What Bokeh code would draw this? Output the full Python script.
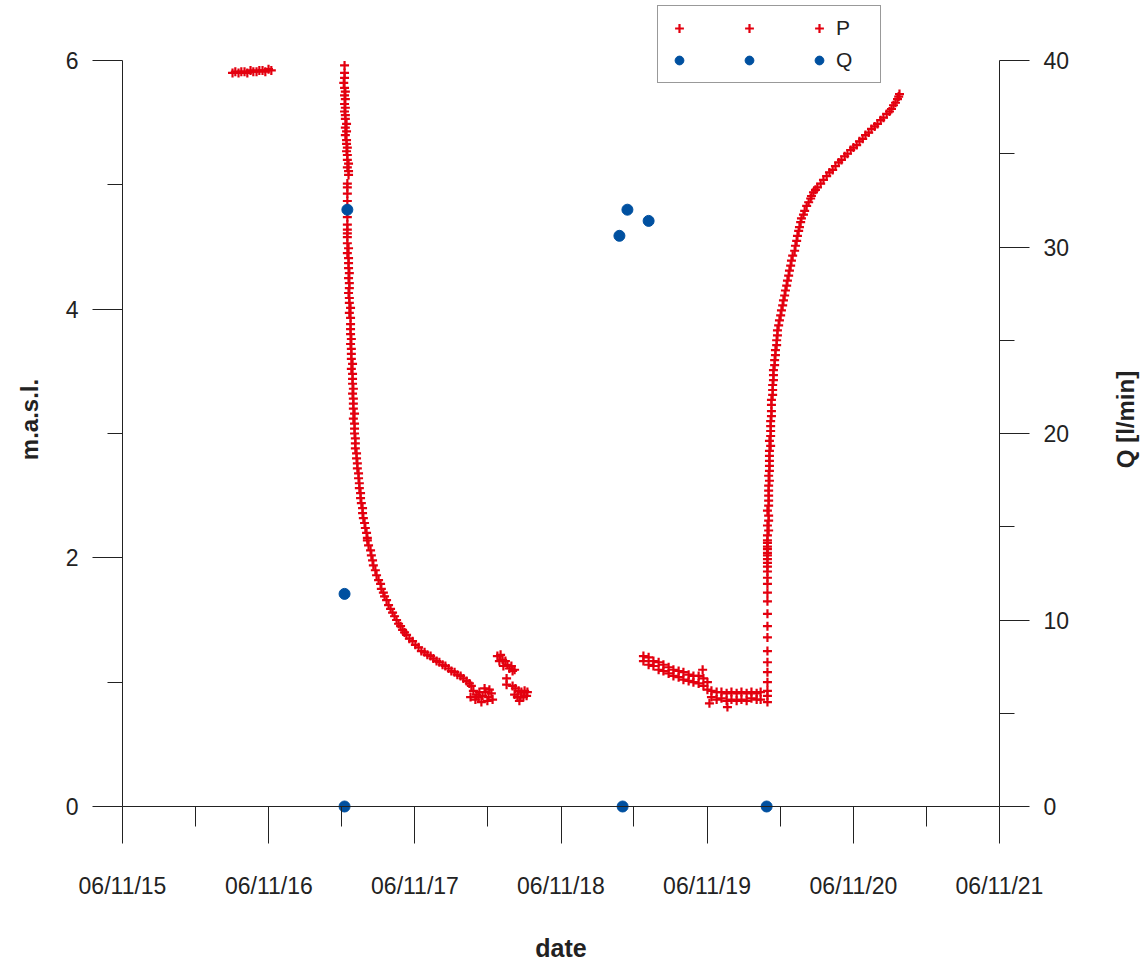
import numpy as np
import pandas as pd
from bokeh.plotting import figure
from bokeh.models import (Range1d, LinearAxis, FixedTicker, DatetimeTickFormatter,
                          Legend, LegendItem, Label)
from bokeh.embed import file_html
from bokeh.resources import INLINE

# ---------------- data ----------------
origin = pd.Timestamp("2015-11-06")   # day 0 of the record

# P : water level [m.a.s.l.]  (elapsed day, level)
p_before = [(275, 5.90), (282, 5.91), (290, 5.90), (297, 5.91), (305, 5.91), (312, 5.90),
            (320, 5.92), (327, 5.91), (335, 5.91), (342, 5.92), (350, 5.92), (357, 5.91),
            (365, 5.93), (372, 5.92)]

p_drawdown = [(555, 5.96), (555, 5.90), (555, 5.86), (553, 5.82), (555, 5.78), (557, 5.75),
              (555, 5.72), (557, 5.69), (555, 5.65), (557, 5.62), (555, 5.59), (557, 5.56),
              (557, 5.53), (560, 5.49), (557, 5.46), (560, 5.43), (557, 5.40), (560, 5.36),
              (560, 5.33), (562, 5.30), (560, 5.27), (562, 5.24), (562, 5.20), (565, 5.17),
              (562, 5.14), (565, 5.11), (565, 5.08),
              (562, 5.01), (562, 4.98), (562, 4.93), (562, 4.87), (562, 4.79), (562, 4.74),
              (562, 4.68), (562, 4.64), (562, 4.61), (562, 4.58),
              (562, 4.53), (565, 4.49), (562, 4.45), (565, 4.41), (565, 4.37), (565, 4.33),
              (567, 4.29), (565, 4.25), (567, 4.21), (567, 4.17), (565, 4.13), (567, 4.09),
              (567, 4.05), (570, 4.01), (567, 3.97), (570, 3.93), (570, 3.88), (570, 3.84),
              (570, 3.80), (572, 3.76), (570, 3.72), (572, 3.68), (572, 3.64), (572, 3.60),
              (575, 3.56), (572, 3.52), (575, 3.48), (575, 3.44), (575, 3.40), (577, 3.36),
              (575, 3.32), (577, 3.28), (577, 3.24), (577, 3.20), (580, 3.16), (577, 3.12),
              (580, 3.08), (580, 3.04), (580, 3.00), (582, 2.96), (582, 2.92), (582, 2.88),
              (585, 2.84), (585, 2.80), (587, 2.76), (587, 2.72), (590, 2.68), (590, 2.64),
              (592, 2.60), (592, 2.56), (595, 2.52), (595, 2.48), (597, 2.44), (600, 2.40),
              (600, 2.36), (602, 2.32), (605, 2.28), (607, 2.24), (610, 2.20), (612, 2.16),
              (612, 2.14), (615, 2.10), (620, 2.06), (622, 2.02), (625, 1.98), (627, 1.94),
              (632, 1.90), (635, 1.86), (640, 1.82), (645, 1.79), (647, 1.75), (652, 1.72),
              (655, 1.69), (660, 1.66), (665, 1.62), (670, 1.59), (675, 1.56), (680, 1.53),
              (685, 1.50), (690, 1.47), (695, 1.45), (700, 1.42), (705, 1.40), (710, 1.38),
              (717, 1.35), (725, 1.33), (732, 1.30), (740, 1.28), (747, 1.25), (755, 1.24),
              (762, 1.22), (770, 1.21), (777, 1.19), (785, 1.17), (792, 1.16), (800, 1.14),
              (807, 1.13), (815, 1.11), (822, 1.09), (830, 1.08), (837, 1.06), (845, 1.05),
              (852, 1.03), (860, 1.01), (867, 0.99), (872, 0.97)]

p_clusters = [(877, 0.93), (885, 0.90), (892, 0.92), (900, 0.89), (907, 0.92), (915, 0.88),
              (922, 0.91), (882, 0.86), (897, 0.84), (912, 0.85), (925, 0.86), (890, 0.88),
              (905, 0.95), (917, 0.94), (870, 0.88),
              (937, 1.21), (945, 1.22), (950, 1.18), (957, 1.17), (952, 1.13), (962, 1.14),
              (967, 1.11), (972, 1.13), (975, 1.09), (942, 1.17), (980, 1.10), (960, 1.03),
              (960, 0.98),
              (975, 0.97), (982, 0.95), (990, 0.93), (997, 0.92), (1005, 0.93), (1012, 0.92),
              (980, 0.90), (987, 0.88), (995, 0.88), (1002, 0.88), (1010, 0.89), (992, 0.85)]

p_second = [(1302, 1.21), (1302, 1.17), (1315, 1.20), (1315, 1.14), (1327, 1.17), (1327, 1.13),
            (1340, 1.16), (1340, 1.10), (1352, 1.14), (1352, 1.09), (1365, 1.12), (1365, 1.07),
            (1377, 1.10), (1377, 1.05), (1390, 1.09), (1390, 1.04), (1402, 1.08), (1402, 1.02),
            (1415, 1.06), (1415, 1.01), (1427, 1.05), (1427, 1.00), (1440, 1.05), (1440, 0.99),
            (1452, 1.03), (1452, 0.97), (1462, 1.00), (1462, 0.94), (1472, 0.93), (1472, 0.88),
            (1485, 0.92), (1485, 0.86), (1497, 0.92), (1497, 0.87), (1510, 0.91), (1510, 0.85),
            (1522, 0.92), (1522, 0.86), (1535, 0.91), (1535, 0.85), (1547, 0.92), (1547, 0.86),
            (1560, 0.91), (1560, 0.85), (1572, 0.92), (1572, 0.87), (1585, 0.91), (1585, 0.86),
            (1595, 0.92), (1595, 0.86), (1450, 1.10), (1467, 0.83), (1512, 0.80)]

p_recovery = [(1612, 0.84), (1612, 0.89), (1612, 0.93), (1612, 1.00), (1612, 1.08), (1612, 1.16),
              (1612, 1.25), (1612, 1.36), (1612, 1.45), (1612, 1.55), (1612, 1.65), (1612, 1.72),
              (1612, 1.79), (1612, 1.84), (1612, 1.89), (1612, 1.93), (1612, 1.96), (1612, 1.99),
              (1612, 2.02), (1612, 2.04), (1612, 2.07), (1612, 2.09), (1612, 2.12), (1612, 2.14),
              (1612, 2.18), (1615, 2.22), (1612, 2.26), (1615, 2.30), (1615, 2.34), (1612, 2.38),
              (1615, 2.42), (1615, 2.46), (1615, 2.50), (1615, 2.54), (1615, 2.58), (1617, 2.62),
              (1615, 2.66), (1617, 2.70), (1617, 2.74), (1617, 2.78), (1617, 2.82), (1617, 2.86),
              (1620, 2.90), (1617, 2.94), (1620, 2.98), (1620, 3.02), (1620, 3.06), (1620, 3.10),
              (1622, 3.14), (1622, 3.18), (1622, 3.23), (1622, 3.27), (1625, 3.31), (1625, 3.35),
              (1625, 3.39), (1627, 3.43), (1627, 3.47), (1627, 3.51), (1630, 3.55), (1630, 3.59),
              (1632, 3.63), (1632, 3.67), (1635, 3.71), (1635, 3.75), (1637, 3.79), (1637, 3.83),
              (1640, 3.87), (1642, 3.91), (1645, 3.95), (1647, 3.99), (1650, 4.03), (1652, 4.07),
              (1655, 4.11), (1657, 4.15), (1660, 4.19), (1662, 4.23), (1665, 4.27), (1667, 4.31),
              (1670, 4.35), (1672, 4.39), (1675, 4.43), (1680, 4.47), (1682, 4.51), (1685, 4.55),
              (1687, 4.59), (1690, 4.63), (1692, 4.66), (1695, 4.70), (1697, 4.73), (1702, 4.76),
              (1705, 4.79), (1710, 4.83), (1715, 4.86), (1720, 4.89), (1722, 4.91), (1727, 4.94),
              (1732, 4.96), (1737, 4.98), (1745, 5.01), (1752, 5.04), (1760, 5.07), (1767, 5.10),
              (1775, 5.12), (1782, 5.15), (1790, 5.18), (1797, 5.20), (1805, 5.23), (1812, 5.25),
              (1820, 5.28), (1827, 5.30), (1835, 5.32), (1842, 5.35), (1850, 5.37), (1857, 5.40),
              (1865, 5.42), (1872, 5.45), (1880, 5.47), (1887, 5.49), (1895, 5.52), (1902, 5.54),
              (1910, 5.57), (1917, 5.59), (1922, 5.61), (1927, 5.64), (1932, 5.66), (1937, 5.69),
              (1940, 5.71), (1942, 5.73)]

# Q : pumping rate [l/min]
q_days = [555, 555, 562, 1242, 1250, 1262, 1315, 1610]
q_rate = [0.0, 11.4, 32.0, 30.6, 0.0, 32.0, 31.4, 0.0]

# axes
x_tick_dates = ["2015-11-06", "2016-11-06", "2017-11-06", "2018-11-06",
                "2019-11-06", "2020-11-06", "2021-11-06"]
x_minor_dates = ["2016-05-07", "2017-05-07", "2018-05-07", "2019-05-07",
                 "2020-05-07", "2021-05-07"]
y_ticks = [0, 2, 4, 6]
y_minor = [1, 3, 5]
q_ticks = [0, 10, 20, 30, 40]
q_minor = [5, 15, 25, 35]
y_max, q_max = 6, 40
x_title, y_title, q_title = "date", "m.a.s.l.", "Q [l/min]"

# ---------------- build ----------------
def ms(t):
    return pd.Timestamp(t).value / 1e6

p_all = p_before + p_drawdown + p_clusters + p_second + p_recovery
p_x = origin + pd.to_timedelta([d for d, _ in p_all], unit="D")
p_y = [v for _, v in p_all]
q_x = origin + pd.to_timedelta(q_days, unit="D")

W, H = 1141, 963
AXL, AXR, AY0, AYT = 122, 999, 806, 60      # where the axes sit (px); frame = whole page

t0, t1 = ms(x_tick_dates[0]), ms(x_tick_dates[-1])
ppms = (AXR - AXL) / (t1 - t0)
x_lo = t0 - AXL / ppms
x_hi = t1 + (W - AXR) / ppms
ppu = (AY0 - AYT) / y_max
y_lo = -(H - AY0) / ppu
y_hi = y_max + AYT / ppu

p = figure(width=W, height=H, x_axis_type="datetime", output_backend="svg",
           toolbar_location=None,
           x_range=Range1d(x_lo, x_hi), y_range=Range1d(y_lo, y_hi),
           min_border_left=0, min_border_right=0,
           min_border_top=0, min_border_bottom=0)
p.extra_y_ranges = {"q": Range1d(y_lo * q_max / y_max, y_hi * q_max / y_max)}
p.outline_line_color = None
p.grid.visible = False
p.background_fill_color = "white"
p.border_fill_color = "white"

RED = "#e3000f"
BLUE = "#0050a0"
FONT = "Liberation Sans"
INK = "#222222"

rp = p.scatter(x=p_x, y=p_y, marker="cross", size=9, line_width=2.2, line_color=RED)
rq = p.scatter(x=q_x, y=q_rate, marker="circle", size=11, fill_color=BLUE,
               line_color=BLUE, y_range_name="q")

def style(ax, tick_out, minor_out):
    ax.axis_line_color = INK
    ax.major_tick_line_color = INK
    ax.minor_tick_line_color = INK
    ax.major_tick_in = 0
    ax.minor_tick_in = 0
    ax.major_tick_out = tick_out
    ax.minor_tick_out = minor_out
    ax.major_label_text_font = FONT
    ax.major_label_text_font_size = "23px"
    ax.major_label_text_color = INK
    ax.axis_label_text_font = FONT
    ax.axis_label_text_font_style = "bold"
    ax.axis_label_text_color = INK

# x axis at y = 0
xax = p.xaxis[0]
xax.ticker = FixedTicker(ticks=[ms(d) for d in x_tick_dates],
                         minor_ticks=[ms(d) for d in x_minor_dates])
fmt = "%d/%m/%y"
xax.formatter = DatetimeTickFormatter(years=fmt, months=fmt, days=fmt, hours=fmt,
                                      hourmin=fmt, minutes=fmt, minsec=fmt, seconds=fmt,
                                      milliseconds=fmt, microseconds=fmt)
xax.fixed_location = 0
xax.bounds = (t0, t1)
xax.axis_label = x_title
style(xax, 37, 20)
xax.axis_label_text_font_size = "25px"
xax.major_label_standoff = 29
xax.axis_label_standoff = 32

# left axis
yax = p.yaxis[0]
yax.ticker = FixedTicker(ticks=y_ticks, minor_ticks=y_minor)
yax.fixed_location = t0
yax.bounds = (0, y_max)
style(yax, 30, 15)
yax.major_label_standoff = 14

# right axis
qax = LinearAxis(y_range_name="q")
qax.ticker = FixedTicker(ticks=q_ticks, minor_ticks=q_minor)
qax.fixed_location = t1
qax.bounds = (0, q_max)
style(qax, 30, 15)
qax.major_label_standoff = 14
p.add_layout(qax, "right")

# vertical axis titles (read bottom-to-top on both sides)
for txt, sx in ((y_title, 29), (q_title, 1125)):
    p.add_layout(Label(x=sx, y=H - 419, x_units="screen", y_units="screen", text=txt,
                       angle=np.pi / 2, text_align="center", text_baseline="middle",
                       text_font=FONT, text_font_size="24px", text_font_style="bold",
                       text_color=INK))

legend = Legend(items=[LegendItem(label="", renderers=[rp]),
                       LegendItem(label="", renderers=[rp]),
                       LegendItem(label="P", renderers=[rp]),
                       LegendItem(label="", renderers=[rq]),
                       LegendItem(label="", renderers=[rq]),
                       LegendItem(label="Q", renderers=[rq])],
                orientation="horizontal", ncols=3,
                location=(657, H - 83),
                glyph_width=22, glyph_height=22, label_standoff=6, label_width=34,
                spacing=8, padding=10, margin=0,
                label_text_font=FONT, label_text_font_size="21px",
                label_text_color=INK,
                border_line_color="#333333", border_line_width=1,
                background_fill_color="white", background_fill_alpha=1)
p.add_layout(legend)

open("out.html", "w").write(file_html(p, INLINE))
